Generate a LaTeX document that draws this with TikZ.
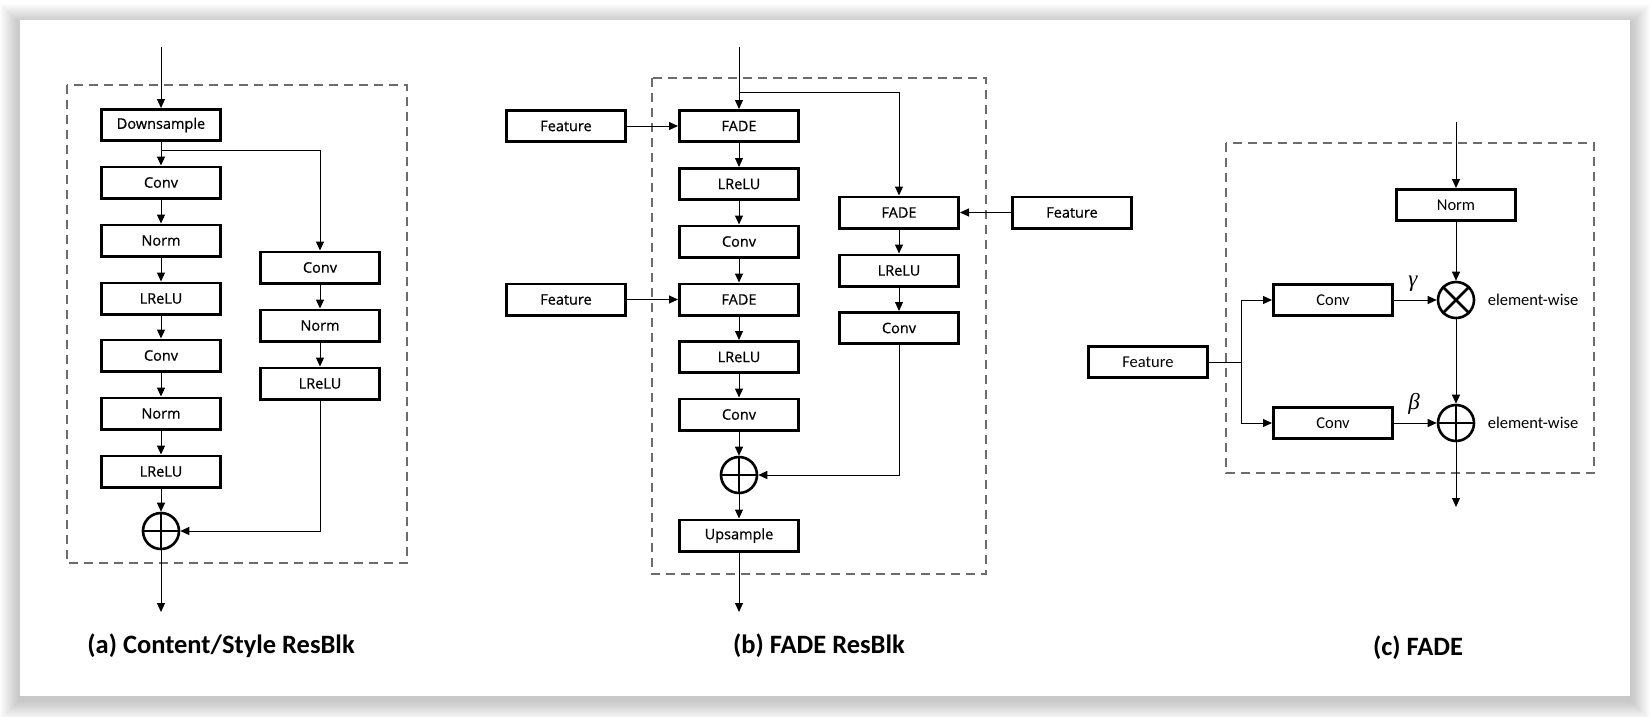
\documentclass[tikz,border=0pt]{standalone}
\usepackage{fontspec}
\setmainfont{Open Sans}
\newfontfamily\boxfont{Open Sans}[FakeBold=0.6]
\newfontfamily\calfont{Carlito}
\newfontfamily\grkfont{Liberation Serif}
\usetikzlibrary{arrows.meta}
\definecolor{dashgray}{RGB}{108,108,108}
\begin{document}
\begin{tikzpicture}[x=1pt,y=-1pt,
  blk/.style={draw,line width=2.8pt,minimum width=119.2pt,minimum height=31.2pt,inner sep=0pt,font=\boxfont\fontsize{14.5}{17}\selectfont},
  cblk/.style={blk,font=\calfont\fontsize{16.5}{20}\selectfont},
  conn/.style={line width=1pt,-{Triangle[length=9pt,width=8pt]}},
  plain/.style={line width=1pt},
  dbox/.style={draw=dashgray,line width=2.3pt,dash pattern=on 9pt off 6pt},
  circ/.style={draw,circle,line width=2.6pt,minimum size=36pt,inner sep=0pt},
  cross/.style={line width=2.6pt},
  captxt/.style={font=\calfont\bfseries\fontsize{26.5}{30}\selectfont},
  ew/.style={font=\calfont\fontsize{16.5}{20}\selectfont},
  greek/.style={font=\grkfont\itshape\fontsize{23}{26}\selectfont}]
\useasboundingbox (0,0) rectangle (1650,716);
% card with shadow
\foreach \i in {1,...,20}{
  \fill[black,opacity=0.011] (20-\i,20-\i+4) rectangle (1630+\i,696+\i+4);
}
\fill[white] (20,20) rectangle (1630,696);

% ---------------- (a) ----------------
\draw[dbox] (67,85) rectangle (407,563);
\node[blk] (ds) at (161,125) {Downsample};
\node[blk] (a1) at (161,182.5) {Conv};
\node[blk] (a2) at (161,240.5) {Norm};
\node[blk] (a3) at (161,298.5) {LReLU};
\node[blk] (a4) at (161,355.5) {Conv};
\node[blk] (a5) at (161,413.5) {Norm};
\node[blk] (a6) at (161,471.5) {LReLU};
\node[blk] (ar1) at (320,267.5) {Conv};
\node[blk] (ar2) at (320,325.5) {Norm};
\node[blk] (ar3) at (320,383.5) {LReLU};
\node[circ] (pA) at (161,531) {};
\draw[cross] (pA.north) -- (pA.south) (pA.west) -- (pA.east);
\coordinate (inA) at (161,47);
\coordinate (bA) at (161,150);
\coordinate (outA) at (161,612);
\draw[conn] (inA) -- (ds.north);
\draw[conn] (ds) -- (a1);
\draw[conn] (a1) -- (a2);
\draw[conn] (a2) -- (a3);
\draw[conn] (a3) -- (a4);
\draw[conn] (a4) -- (a5);
\draw[conn] (a5) -- (a6);
\draw[conn] (a6) -- (pA);
\draw[conn] (bA) -| (ar1.north);
\draw[conn] (ar1) -- (ar2);
\draw[conn] (ar2) -- (ar3);
\draw[conn] (ar3.south) |- (pA.east);
\draw[conn] (pA.south) -- (outA);
\node[captxt] (capA) at (221,646) {(a) Content/Style ResBlk};

% ---------------- (b) ----------------
\draw[dbox] (652,78) rectangle (986,574);
\node[blk] (b1) at (739,126) {FADE};
\node[blk] (b2) at (739,184) {LReLU};
\node[blk] (b3) at (739,241.5) {Conv};
\node[blk] (b4) at (739,299.5) {FADE};
\node[blk] (b5) at (739,357) {LReLU};
\node[blk] (b6) at (739,414.5) {Conv};
\node[blk] (up) at (739,535.5) {Upsample};
\node[blk] (br1) at (899,212.5) {FADE};
\node[blk] (br2) at (899,270.5) {LReLU};
\node[blk] (br3) at (899,328) {Conv};
\node[blk] (f1) at (566,126) {Feature};
\node[blk] (f2) at (566,299.5) {Feature};
\node[blk] (f3) at (1072,212.5) {Feature};
\node[circ] (pB) at (739,475) {};
\draw[cross] (pB.north) -- (pB.south) (pB.west) -- (pB.east);
\coordinate (inB) at (739,47);
\coordinate (bB) at (739,92);
\coordinate (outB) at (739,612);
\draw[conn] (inB) -- (b1.north);
\draw[conn] (bB) -| (br1.north);
\draw[conn] (b1) -- (b2);
\draw[conn] (b2) -- (b3);
\draw[conn] (b3) -- (b4);
\draw[conn] (b4) -- (b5);
\draw[conn] (b5) -- (b6);
\draw[conn] (b6) -- (pB);
\draw[conn] (pB) -- (up);
\draw[conn] (up.south) -- (outB);
\draw[conn] (br1) -- (br2);
\draw[conn] (br2) -- (br3);
\draw[conn] (br3.south) |- (pB.east);
\draw[conn] (f1) -- (b1);
\draw[conn] (f2) -- (b4);
\draw[conn] (f3) -- (br1);
\node[captxt] (capB) at (819,646) {(b) FADE ResBlk};

% ---------------- (c) ----------------
\draw[dbox] (1226,143) rectangle (1594,473);
\node[cblk] (fc) at (1148,362) {Feature};
\node[cblk] (nc) at (1456,205) {Norm};
\node[cblk] (cv1) at (1333,300) {Conv};
\node[cblk] (cv2) at (1333,423) {Conv};
\node[circ] (mc) at (1456,300) {};
\draw[cross] (mc.north west) -- (mc.south east) (mc.north east) -- (mc.south west);
\node[circ] (pc) at (1456,423) {};
\draw[cross] (pc.north) -- (pc.south) (pc.west) -- (pc.east);
\coordinate (inC) at (1456,122);
\coordinate (bC) at (1241,362);
\coordinate (outC) at (1456,507);
\draw[conn] (inC) -- (nc.north);
\draw[conn] (nc) -- (mc);
\draw[conn] (mc) -- (pc);
\draw[conn] (pc.south) -- (outC);
\draw[plain] (fc.east) -- (bC);
\draw[conn] (bC) |- (cv1.west);
\draw[conn] (bC) |- (cv2.west);
\draw[conn] (cv1) -- (mc);
\draw[conn] (cv2) -- (pc);
\node[greek] (gam) at (1413,284) {γ};
\node[greek] (bet) at (1414,404) {β};
\node[ew] (ew1) at (1533,300) {element-wise};
\node[ew] (ew2) at (1533,423) {element-wise};
\node[captxt] (capC) at (1418,648) {(c) FADE};
\end{tikzpicture}
\end{document}
